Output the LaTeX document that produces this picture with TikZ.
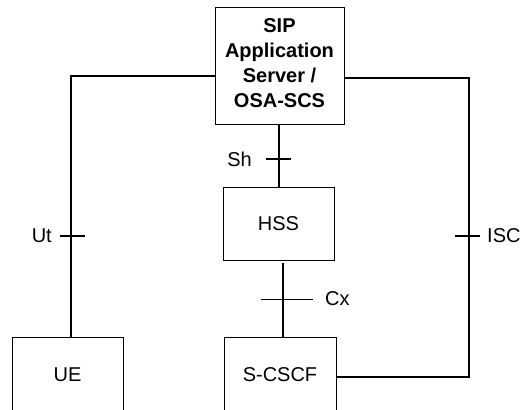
\documentclass[tikz,border=0pt]{standalone}
\usepackage{fontspec}
\setmainfont{Liberation Sans}

\begin{document}
\begin{tikzpicture}
[box/.style={rectangle, draw=black, line width=0.75pt, inner sep=0pt, font=\fontsize{20}{25}\selectfont},
 link/.style={line width=1.6pt, color=black},
 tick/.style={line width=1.2pt, color=black},
 iface/.style={inner sep=0pt, font=\fontsize{20}{25}\selectfont}]
\clip (0pt, 0pt) rectangle (520pt, -410pt);
\node (AS) [box, minimum width=129pt, minimum height=117pt, align=center, text depth=5pt, font=\fontsize{20}{25}\selectfont\bfseries] at (279.5pt, -65.5pt) {SIP\\Application\\Server /\\OSA-SCS};
\node (HSS) [box, minimum width=111pt, minimum height=73pt] at (278.5pt, -223.5pt) {HSS};
\node (UE) [box, minimum width=111pt, minimum height=76pt] at (67.5pt, -375pt) {UE};
\node (SCSCF) [box, minimum width=112pt, minimum height=76pt] at (280pt, -375pt) {S-CSCF};
\coordinate (ut) at (71pt, -236pt);
\coordinate (isc) at (469pt, -236pt);
\coordinate (sh) at (279pt, -159pt);
\coordinate (cx) at (283pt, -299pt);
\draw [link] ([yshift=-10.5pt]AS.west) -| (ut) -- (ut |- UE.north);
\draw [link] ([yshift=-12.5pt]AS.east) -| (isc) |- ([yshift=-2pt]SCSCF.east);
\draw [link] (AS.south -| sh) -- (HSS.north -| sh);
\draw [link] (HSS.south -| cx) ++(0pt, -3pt) -- (SCSCF.north -| cx);
\draw [tick] ([xshift=-11pt]ut) -- ([xshift=14pt]ut);
\draw [tick] ([xshift=-14pt]isc) -- ([xshift=11pt]isc);
\draw [tick] ([xshift=-13pt]sh) -- ([xshift=12pt]sh);
\draw [line width=0.6pt, color=black] ([xshift=-22pt]cx) -- ([xshift=30pt]cx);
\node (utlabel) [iface, anchor=east] at (52pt, -236pt) {Ut};
\node (shlabel) [iface, anchor=east] at (252pt, -159pt) {Sh};
\node (cxlabel) [iface, anchor=west] at (325pt, -299pt) {Cx};
\node (isclabel) [iface, anchor=west] at (487pt, -236pt) {ISC};
\end{tikzpicture}
\end{document}
